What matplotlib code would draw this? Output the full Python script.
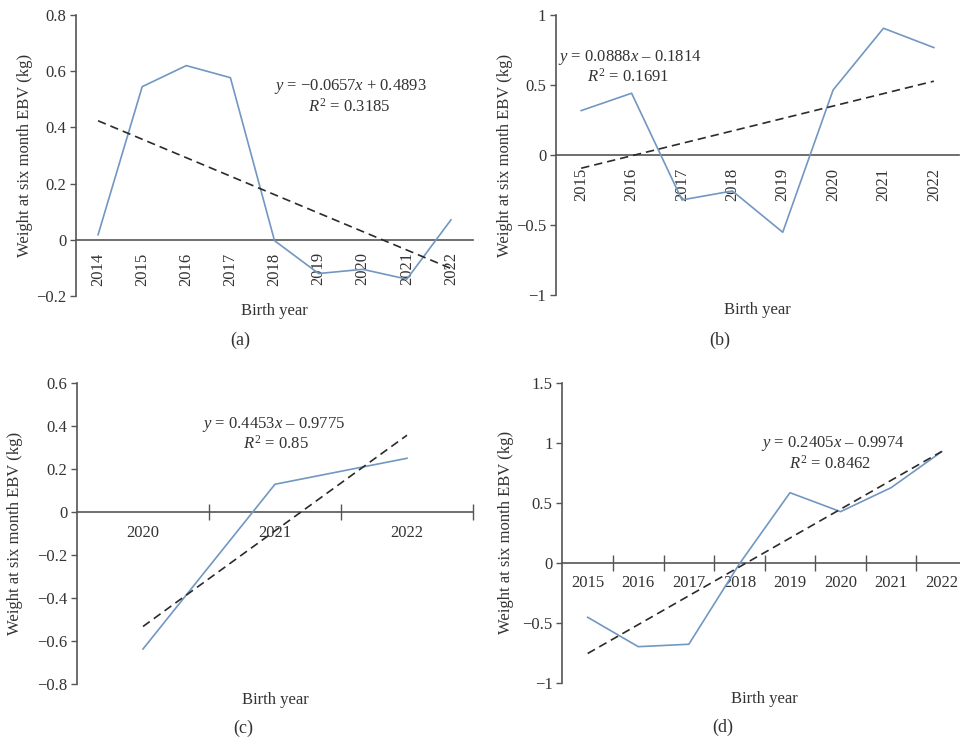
import numpy as np
import matplotlib
matplotlib.use("Agg")
import matplotlib.pyplot as plt
from matplotlib.ticker import FixedLocator

plt.rcParams['font.family'] = ['Liberation Serif', 'DejaVu Serif']
plt.rcParams['mathtext.fontset'] = 'custom'
plt.rcParams['mathtext.rm'] = 'Liberation Serif'
plt.rcParams['mathtext.it'] = 'Liberation Serif:italic'

# panel (a)
years_a = ['2014', '2015', '2016', '2017', '2018', '2019', '2020', '2021', '2022']
ebv_a = [0.018, 0.545, 0.62, 0.577, -0.003, -0.12, -0.105, -0.14, 0.071]
trend_a = (-0.0657, 0.4893)
eq_a = ["$y$ = \u22120.0657$x$ + 0.4893", "$R^2$ = 0.3185"]

# panel (b)
years_b = ['2015', '2016', '2017', '2018', '2019', '2020', '2021', '2022']
ebv_b = [0.319, 0.443, -0.319, -0.255, -0.55, 0.466, 0.907, 0.769]
trend_b = (0.0888, -0.1814)
eq_b = ["$y$ = 0.0888$x$ \u2013 0.1814", "$R^2$ = 0.1691"]

# panel (c)
years_c = ['2020', '2021', '2022']
ebv_c = [-0.637, 0.130, 0.251]
trend_c = (0.4453, -0.9775)
eq_c = ["$y$ = 0.4453$x$ \u2013 0.9775", "$R^2$ = 0.85"]

# panel (d)
years_d = ['2015', '2016', '2017', '2018', '2019', '2020', '2021', '2022']
ebv_d = [-0.455, -0.70, -0.68, -0.01, 0.583, 0.425, 0.625, 0.925]
trend_d = (0.2405, -0.9974)
eq_d = ["$y$ = 0.2405$x$ \u2013 0.9974", "$R^2$ = 0.8462"]

LINE = '#7197c2'
AXC = '#555555'
TXT = '#333333'
FS = 12


def fmt(v):
    if abs(v) < 1e-9:
        return '0'
    s = ('%g' % v)
    return s.replace('-', '\u2212')


def panel(pos, years, vals, trend, eq, eq_pos, yticks, rotate, boundary_ticks, ylab_x):
    ax = fig.add_axes(pos)
    n = len(years)
    x = np.arange(n)
    ax.plot(x, vals, color=LINE, lw=1.2, zorder=3)
    tx = np.array([0, n - 1])
    ty = trend[0] * (tx + 1) + trend[1]
    ax.plot(tx, ty, color='#2b2b2b', lw=1.2, ls=(0, (5, 3)), zorder=4)

    ax.set_xlim(-0.5, n - 0.5)
    ax.set_ylim(yticks[0], yticks[-1])
    for s in ['top', 'right']:
        ax.spines[s].set_visible(False)
    ax.spines['bottom'].set_position(('data', 0))
    for s in ['left', 'bottom']:
        ax.spines[s].set_color(AXC)
        ax.spines[s].set_linewidth(1.2)

    ax.set_yticks(yticks)
    ax.set_yticklabels([fmt(v) for v in yticks])
    ax.tick_params(axis='y', direction='out', length=4, width=1.0, color=AXC,
                   pad=3, labelsize=FS, labelcolor=TXT)

    ax.set_xticks(x)
    ax.set_xticklabels(years, rotation=90 if rotate else 0)
    ax.tick_params(axis='x', which='major', length=0, pad=9,
                   labelsize=FS, labelcolor=TXT)
    if boundary_ticks:
        ax.xaxis.set_minor_locator(FixedLocator(np.arange(0.5, n, 1.0)))
        ax.tick_params(axis='x', which='minor', direction='inout', length=12,
                       width=1.0, color=AXC)

    ax.set_ylabel('Weight at six month EBV (kg)', fontsize=FS, color=TXT, va='center')
    ax.yaxis.set_label_coords(ylab_x, 0.5)
    ax.text(0.5, -0.053, 'Birth year', transform=ax.transAxes, ha='center',
            va='center', fontsize=FS, color=TXT)

    (x1, y1), (x2, y2) = eq_pos
    ax.text(x1, y1, eq[0], ha='center', va='center', fontsize=FS, color=TXT)
    ax.text(x2, y2, eq[1], ha='center', va='center', fontsize=FS, color=TXT)
    ax.patch.set_alpha(0)
    return ax


fig = plt.figure(figsize=(9.6, 7.43), dpi=100)

panel([0.0792, 0.6016, 0.4135, 0.3782], years_a, ebv_a, trend_a, eq_a,
      [(5.73, 0.546), (5.69, 0.475)], [-0.2, 0, 0.2, 0.4, 0.6, 0.8],
      True, False, -0.128)
panel([0.5792, 0.6026, 0.4198, 0.3769], years_b, ebv_b, trend_b, eq_b,
      [(0.97, 0.70), (0.92, 0.561)], [-1, -0.5, 0, 0.5, 1],
      True, False, -0.127)
panel([0.0802, 0.0794, 0.4125, 0.4047], years_c, ebv_c, trend_c, eq_c,
      [(0.99, 0.406), (1.01, 0.318)], [-0.8, -0.6, -0.4, -0.2, 0, 0.2, 0.4, 0.6],
      False, True, -0.157)
panel([0.5858, 0.0812, 0.4215, 0.4038], years_d, ebv_d, trend_d, eq_d,
      [(4.85, 0.989), (4.80, 0.8225)], [-1, -0.5, 0, 0.5, 1, 1.5],
      False, True, -0.139)

for lab, fx, fy in [('(a)', 240, 340), ('(b)', 720, 340), ('(c)', 243, 728), ('(d)', 723, 727)]:
    fig.text(fx / 960, 1 - fy / 743, lab, ha='center', va='center', fontsize=13, color=TXT)

fig.savefig('out.png', dpi=100)
